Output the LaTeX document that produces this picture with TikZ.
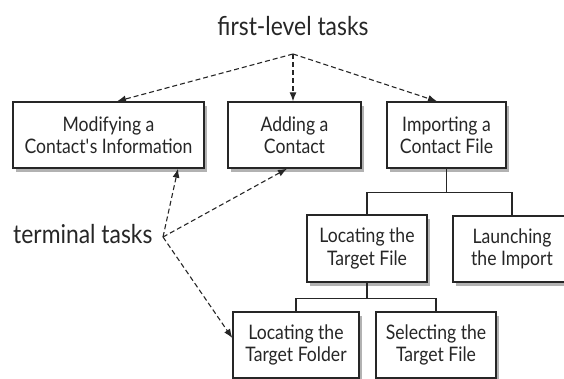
\documentclass[tikz,border=0pt]{standalone}
\usepackage{fontspec}
\setmainfont{Lato}[FakeStretch=0.88]
\usetikzlibrary{arrows.meta,shadows,calc}
\begin{document}
\begin{tikzpicture}[x=1pt,y=-1pt,
  box/.style={draw=black!85,line width=1.4pt,fill=white,inner sep=0pt,align=center,
    minimum height=66pt,font=\fontsize{20}{22.5}\selectfont,text=black!85,
    drop shadow={shadow xshift=2.5pt,shadow yshift=-3.5pt,opacity=0.3,fill=black}},
  lbl/.style={font=\fontsize{26}{28}\selectfont,inner sep=0pt,text=black!85},
  dasharrow/.style={draw=black!85,line width=1.1pt,dash pattern=on 5pt off 3pt,
    -{Latex[length=9pt,width=7pt]}},
  tree/.style={draw=black!85,line width=1.1pt}]
\useasboundingbox (0,0) rectangle (564,378);
\clip (0,0) rectangle (564,378);

\node[box,minimum width=191pt] (b1) at (108.5,135) {Modifying a\\Contact\textquotesingle s Information};
\node[box,minimum width=133pt] (b2) at (294.5,135) {Adding a\\Contact};
\node[box,minimum width=119pt] (b3) at (446.5,135) {Importing a\\Contact File};
\node[box,minimum width=120pt,minimum height=67pt] (b4) at (367,248.5) {Locating the\\Target File};
\node[box,minimum width=118pt] (b5) at (512,249) {Launching\\the Import};
\node[box,minimum width=126pt] (b6) at (296,345) {Locating the\\Target Folder};
\node[box,minimum width=120pt] (b7) at (436,345) {Selecting the\\Target File};

\node[lbl,anchor=base] (fl) at (293,35) {first-level tasks};
\node[lbl,anchor=base west] (tt) at (13,243) {terminal tasks};

\coordinate (fo) at (293,54);
\draw[dasharrow] (fo) -- ($(b1.north)+(8.5,0)$);
\draw[dasharrow] (fo) -- (b2.north -| fo);
\draw[dasharrow] (fo) -- ($(b3.north)+(-9.5,0)$);

\coordinate (to) at (163,237);
\draw[dasharrow] (to) -- ($(b1.south)+(69.5,0)$);
\draw[dasharrow] (to) -- ($(b2.south)+(-7.5,0)$);
\draw[dasharrow] (to) -- ($(b6.west)+(0,-7)$);

\draw[tree] (b3.south) -- ++(0,24) -| (b4.north);
\draw[tree] (b3.south) -- ++(0,24) -| (b5.north);
\draw[tree] (b4.south) -- ++(0,16) -| (b6.north);
\draw[tree] (b4.south) -- ++(0,16) -| (b7.north);
\end{tikzpicture}
\end{document}
